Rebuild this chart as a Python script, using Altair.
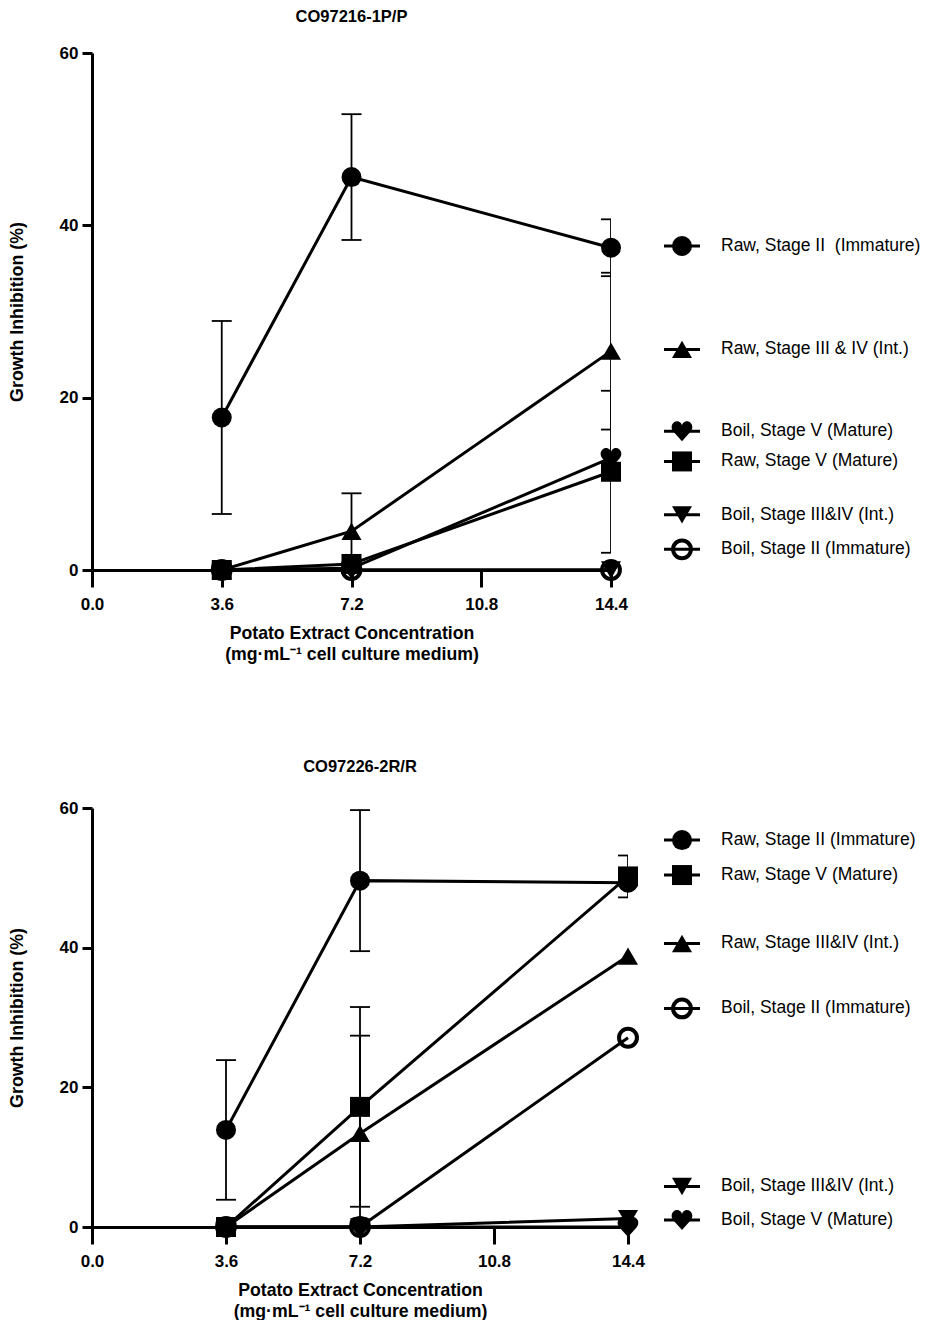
import altair as alt
import pandas as pd

# ---------------- data ----------------
x_levels = [3.6, 7.2, 14.4]

series_keys = ["rawII", "rawIII", "rawV", "boilII", "boilIII", "boilV"]

# Top panel: CO97216-1P/P  (mean growth inhibition %, SD)
top_raw_ii = [17.7, 45.6, 37.4]
top_raw_ii_sd = [11.2, 7.3, 3.3]
top_raw_iii = [0.0, 4.5, 25.4]
top_raw_iii_sd = [0.0, 4.4, 9.1]
top_raw_v = [0.0, 0.7, 11.4]
top_raw_v_sd = [0.0, 0.0, 9.4]
top_boil_ii = [0.0, 0.0, 0.0]
top_boil_iii = [0.0, 0.0, 0.0]
top_boil_v = [0.0, 0.2, 13.0]

# Bottom panel: CO97226-2R/R
bot_raw_ii = [13.9, 49.6, 49.3]
bot_raw_ii_sd = [10.0, 10.1, 0.0]
bot_raw_iii = [0.0, 13.4, 38.8]
bot_raw_iii_sd = [0.0, 14.0, 0.0]
bot_raw_v = [0.0, 17.2, 50.2]
bot_raw_v_sd = [0.0, 14.3, 3.0]
bot_boil_ii = [0.0, 0.0, 27.1]
bot_boil_iii = [0.0, 0.0, 1.2]
bot_boil_v = [0.0, 0.0, 0.0]
zero_sd = [0.0, 0.0, 0.0]

# legend labels (order as listed in each panel)
top_legend_keys = ["rawII", "rawIII", "boilV", "rawV", "boilIII", "boilII"]
top_legend_labels = ["Raw, Stage II \u00a0(Immature)", "Raw, Stage III & IV (Int.)",
                     "Boil, Stage V (Mature)", "Raw, Stage V (Mature)",
                     "Boil, Stage III&IV (Int.)", "Boil, Stage II (Immature)"]
bot_legend_keys = ["rawII", "rawV", "rawIII", "boilII", "boilIII", "boilV"]
bot_legend_labels = ["Raw, Stage II (Immature)", "Raw, Stage V (Mature)",
                     "Raw, Stage III&IV (Int.)", "Boil, Stage II (Immature)",
                     "Boil, Stage III&IV (Int.)", "Boil, Stage V (Mature)"]

# legend slot positions (layout, in axis units)
top_legend_slots = [37.6, 25.6, 16.1, 12.6, 6.4, 2.4]
bot_legend_slots = [55.4, 50.4, 40.6, 31.3, 5.8, 1.0]

x_ticks = [0.0, 3.6, 7.2, 10.8, 14.4]
y_ticks = [0, 20, 40, 60]

# ---------------- styles ----------------
HEART = ("M0,1 L-0.85,0.05 C-1.25,-0.4 -0.95,-1 -0.5,-1 C-0.2,-1 0,-0.75 0,-0.55 "
         "C0,-0.75 0.2,-1 0.5,-1 C0.95,-1 1.25,-0.4 0.85,0.05 Z")
filled_keys = ["rawII", "rawIII", "rawV", "boilIII", "boilV"]
filled_shapes = ["circle", "triangle-up", "square", "triangle-down", HEART]
filled_sizes = [400, 400, 350, 400, 400]

X_TITLE = ["Potato Extract Concentration", "(mg\u00b7mL\u207b\u00b9 cell culture medium)"]
Y_TITLE = "Growth Inhibition (%)"
FONT = "Liberation Sans"


def long_df(series_lists):
    rows = []
    for key, means, sds in series_lists:
        for xv, m, s in zip(x_levels, means, sds):
            rows.append({"key": key, "x": xv, "val": m, "sd": s,
                         "lo": m - s, "hi": m + s})
    return pd.DataFrame(rows)


top_df = long_df([
    ("rawII", top_raw_ii, top_raw_ii_sd),
    ("rawIII", top_raw_iii, top_raw_iii_sd),
    ("rawV", top_raw_v, top_raw_v_sd),
    ("boilII", top_boil_ii, zero_sd),
    ("boilIII", top_boil_iii, zero_sd),
    ("boilV", top_boil_v, zero_sd),
])
bot_df = long_df([
    ("rawII", bot_raw_ii, bot_raw_ii_sd),
    ("rawIII", bot_raw_iii, bot_raw_iii_sd),
    ("rawV", bot_raw_v, bot_raw_v_sd),
    ("boilII", bot_boil_ii, zero_sd),
    ("boilIII", bot_boil_iii, zero_sd),
    ("boilV", bot_boil_v, zero_sd),
])
top_leg = pd.DataFrame({"key": top_legend_keys, "label": top_legend_labels, "val": top_legend_slots})
bot_leg = pd.DataFrame({"key": bot_legend_keys, "label": bot_legend_labels, "val": bot_legend_slots})


def panel(title_text, df, leg, w, h, lx0, lx1, ltext, title_offset):
    xs = alt.Scale(domain=[0, 14.4], nice=False, zero=False)
    ys = alt.Scale(domain=[0, 60], nice=False)
    xaxis = alt.Axis(values=x_ticks, format=".1f", tickSize=17, tickWidth=3, domainWidth=3,
                     domainColor="black", tickColor="black", labelColor="black", titleColor="black",
                     labelFontSize=17, labelFontWeight="bold", labelPadding=9, labelFlush=False,
                     titleFontSize=17.7, titleFontWeight="bold", titlePadding=12, titleLineHeight=21,
                     grid=False, labelFont=FONT, titleFont=FONT)
    yaxis = alt.Axis(values=y_ticks, format="d", tickSize=10, tickWidth=3, domainWidth=3,
                     domainColor="black", tickColor="black", labelColor="black", titleColor="black",
                     labelFontSize=17, labelFontWeight="bold", labelPadding=4,
                     titleFontSize=17.8, titleFontWeight="bold", titlePadding=33,
                     grid=False, labelFont=FONT, titleFont=FONT)
    X = alt.X("x:Q", scale=xs, axis=xaxis, title=X_TITLE)

    def Y(f):
        return alt.Y(f, scale=ys, axis=yaxis, title=Y_TITLE)

    base = alt.Chart(df)
    err = base.transform_filter("datum.sd > 0")
    err_rule = err.mark_rule(strokeWidth=1.8, color="black", clip=True).encode(
        x=X, y=Y("lo:Q"), y2="hi:Q")
    cap_hi = err.mark_tick(orient="horizontal", size=20, thickness=1.8, color="black",
                           opacity=1, clip=True).encode(x=X, y=Y("hi:Q"))
    cap_lo = err.mark_tick(orient="horizontal", size=20, thickness=1.8, color="black",
                           opacity=1, clip=True).encode(x=X, y=Y("lo:Q"))
    lines = base.mark_line(strokeWidth=3, color="black").encode(
        x=X, y=Y("val:Q"), detail="key:N")

    shape_enc = alt.Shape("key:N", scale=alt.Scale(domain=filled_keys, range=filled_shapes), legend=None)
    size_enc = alt.Size("key:N", scale=alt.Scale(domain=filled_keys, range=filled_sizes), legend=None)

    pts = base.transform_filter("datum.key != 'boilII'").mark_point(
        filled=True, color="black", opacity=1).encode(
        x=X, y=Y("val:Q"), shape=shape_enc, size=size_enc)
    open_pts = base.transform_filter("datum.key == 'boilII'").mark_point(
        shape="circle", filled=False, color="black", strokeWidth=4, size=320, opacity=1).encode(
        x=X, y=Y("val:Q"))

    lbase = alt.Chart(leg)
    lrule = lbase.mark_rule(strokeWidth=3, color="black").encode(
        x=alt.value(lx0), x2=alt.value(lx1), y=Y("val:Q"))
    lpts = lbase.transform_filter("datum.key != 'boilII'").mark_point(
        filled=True, color="black", opacity=1).encode(
        x=alt.value((lx0 + lx1) / 2), y=Y("val:Q"), shape=shape_enc, size=size_enc)
    lopen = lbase.transform_filter("datum.key == 'boilII'").mark_point(
        shape="circle", filled=False, color="black", strokeWidth=4, size=320, opacity=1).encode(
        x=alt.value((lx0 + lx1) / 2), y=Y("val:Q"))
    ltxt = lbase.mark_text(align="left", baseline="middle", fontSize=17.5, font=FONT,
                           color="black").encode(
        x=alt.value(ltext), y=Y("val:Q"), text="label:N")

    return alt.layer(err_rule, cap_hi, cap_lo, lines, pts, open_pts,
                     lrule, lpts, lopen, ltxt).properties(
        width=w, height=h,
        title=alt.TitleParams(title_text, fontSize=16.5, fontWeight="bold", font=FONT,
                              anchor="middle", offset=title_offset, color="black"))


top = panel("CO97216-1P/P", top_df, top_leg, 519, 517, 572, 608, 629, 19)
bottom = panel("CO97226-2R/R", bot_df, bot_leg, 536, 419, 572, 608, 629, 24)

chart = alt.vconcat(top, bottom, spacing=95).properties(padding=0).configure(
    font=FONT).configure_view(strokeWidth=0)

chart.save("out.html", embed_options={"renderer": "svg", "actions": False})
